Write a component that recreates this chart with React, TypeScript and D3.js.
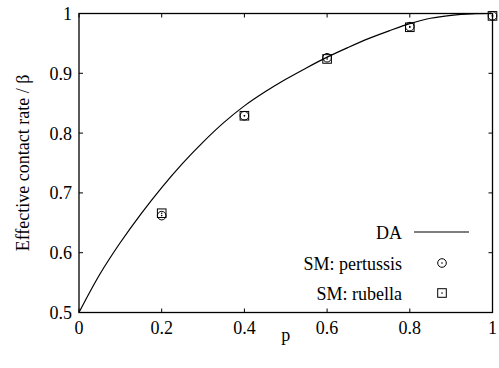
import React from "react";
import * as d3 from "d3";

const daP = [0, 0.05, 0.1, 0.15, 0.2, 0.25, 0.3, 0.35, 0.4, 0.45, 0.5, 0.55, 0.6, 0.65, 0.7, 0.75, 0.8, 0.85, 0.9, 0.95, 1];
const daV = [0.5, 0.5635, 0.617, 0.665, 0.709, 0.749, 0.785, 0.8175, 0.8455, 0.869, 0.89, 0.909, 0.927, 0.943, 0.958, 0.971, 0.983, 0.992, 0.997, 0.9995, 1.0];

const smP = [0.2, 0.4, 0.6, 0.8, 1.0];
const pertussis = [0.662, 0.829, 0.926, 0.978, 0.996];
const rubella = [0.666, 0.829, 0.924, 0.977, 0.996];

const xTicks = [0, 0.2, 0.4, 0.6, 0.8, 1];
const yTicks = [0.5, 0.6, 0.7, 0.8, 0.9, 1];
const xTickLabels = ["0", "0.2", "0.4", "0.6", "0.8", "1"];
const yTickLabels = ["0.5", "0.6", "0.7", "0.8", "0.9", "1"];

const legendLabels = ["DA", "SM: pertussis", "SM: rubella"];

const W = 499, H = 368;
const L = 79, R = 492.5, T = 13.5, B = 312.5;
const FONT = "Liberation Serif, Tinos, DejaVu Serif, serif";
const FS = 18;

function Circle({ cx, cy }: { cx: number; cy: number }) {
  return (
    <g>
      <circle cx={cx} cy={cy} r={4.3} fill="none" stroke="#000" strokeWidth={1} />
      <circle cx={cx} cy={cy} r={0.8} fill="#000" />
    </g>
  );
}
function Square({ cx, cy }: { cx: number; cy: number }) {
  return (
    <g>
      <rect x={cx - 4.3} y={cy - 4.3} width={8.6} height={8.6} fill="none" stroke="#000" strokeWidth={1} />
      <circle cx={cx} cy={cy} r={0.8} fill="#000" />
    </g>
  );
}

export default function App() {
  const x = d3.scaleLinear().domain([0, 1]).range([L, R]);
  const y = d3.scaleLinear().domain([0.5, 1]).range([B, T]);
  const line = d3
    .line<number>()
    .x((_, i) => x(daP[i]))
    .y((d) => y(d))
    .curve(d3.curveCatmullRom);
  const tl = 4;
  const legX = 402;
  const legRows = [232, 263, 293];
  const mx = 442;
  return (
    <svg width={W} height={H} style={{ position: "absolute", left: 0, top: 0, fontFamily: FONT, fontSize: FS }}>
      <rect width={W} height={H} fill="#fff" />
      {xTicks.map((t, i) => (
        <g key={"xt" + i}>
          <line x1={x(t)} x2={x(t)} y1={B} y2={B - tl} stroke="#000" strokeWidth={1} />
          <line x1={x(t)} x2={x(t)} y1={T} y2={T + tl} stroke="#000" strokeWidth={1} />
          <text x={x(t)} y={334} textAnchor="middle">{xTickLabels[i]}</text>
        </g>
      ))}
      {yTicks.map((t, i) => (
        <g key={"yt" + i}>
          <line x1={L} x2={L + tl} y1={y(t)} y2={y(t)} stroke="#000" strokeWidth={1} />
          <line x1={R} x2={R - tl} y1={y(t)} y2={y(t)} stroke="#000" strokeWidth={1} />
          <text x={72} y={y(t) + 6.5} textAnchor="end">{yTickLabels[i]}</text>
        </g>
      ))}
      <path d={line(daV) || ""} fill="none" stroke="#000" strokeWidth={1.2} />
      {smP.map((p, i) => (
        <Circle key={"c" + i} cx={x(p)} cy={y(pertussis[i])} />
      ))}
      {smP.map((p, i) => (
        <Square key={"s" + i} cx={x(p)} cy={y(rubella[i])} />
      ))}
      <rect x={L} y={T} width={R - L} height={B - T} fill="none" stroke="#000" strokeWidth={1.3} />
      {legendLabels.map((lab, i) => (
        <text key={"lg" + i} x={legX} y={legRows[i] + 6.5} textAnchor="end">{lab}</text>
      ))}
      <line x1={414} x2={469} y1={legRows[0]} y2={legRows[0]} stroke="#000" strokeWidth={1.2} />
      <Circle cx={mx} cy={legRows[1]} />
      <Square cx={mx} cy={legRows[2]} />
      <text x={(L + R) / 2} y={341} textAnchor="middle">p</text>
      <text transform={`translate(29, ${(T + B) / 2}) rotate(-90)`} textAnchor="middle">Effective contact rate / β</text>
    </svg>
  );
}
